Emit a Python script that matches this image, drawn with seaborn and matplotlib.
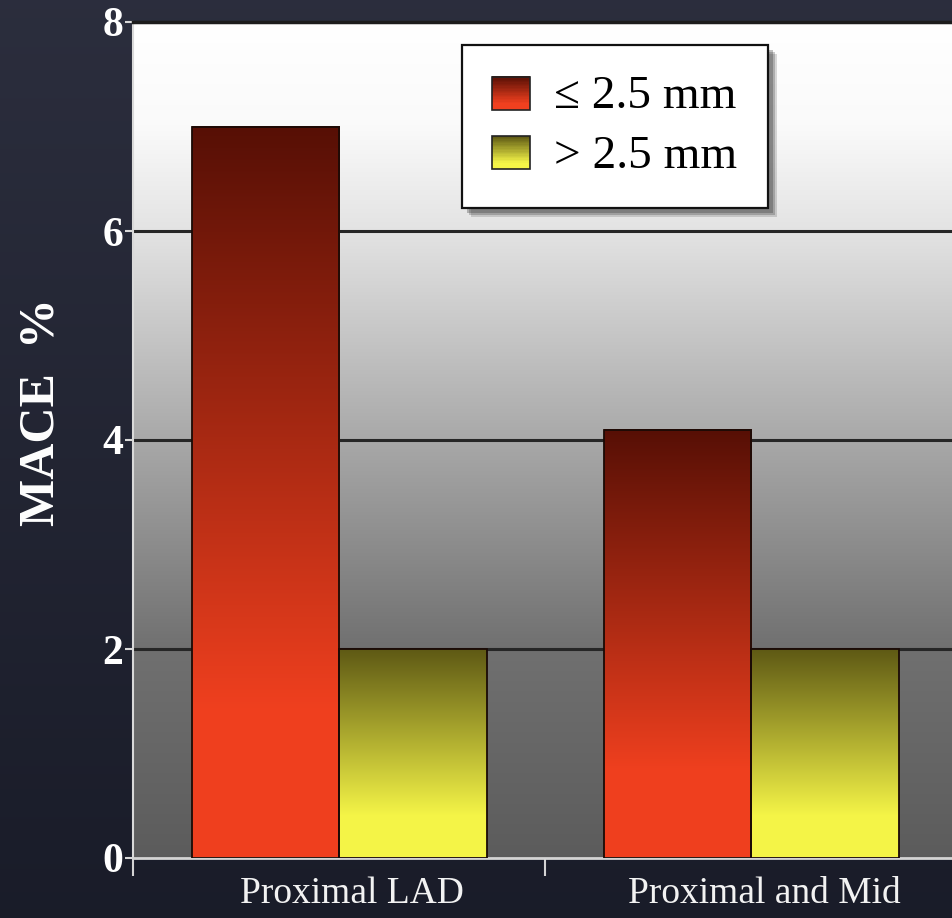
import numpy as np
import pandas as pd
import matplotlib
matplotlib.use("Agg")
import matplotlib.pyplot as plt
from matplotlib.patches import Rectangle
from matplotlib.legend_handler import HandlerBase
from matplotlib.ticker import FixedLocator
from matplotlib.transforms import ScaledTranslation
import seaborn as sns

# ---- data -------------------------------------------------------------
categories = ["Proximal LAD", "Proximal and Mid"]
groups = ["\u2264 2.5 mm", "> 2.5 mm"]
small_vessel = [7.0, 4.1]   # <= 2.5 mm
large_vessel = [2.0, 2.0]   # > 2.5 mm
y_ticks = [0, 2, 4, 6, 8]
y_label = "MACE  %"

df = pd.DataFrame({
    "category": categories * 2,
    "group": [groups[0]] * len(categories) + [groups[1]] * len(categories),
    "value": small_vessel + large_vessel,
})

# bottom (bright) and top (dark) colours of each series' gradient
grad_colors = {
    groups[0]: ((0.94, 0.25, 0.12), (0.34, 0.06, 0.02)),
    groups[1]: ((0.96, 0.96, 0.28), (0.37, 0.35, 0.08)),
}

sns.set_theme(style="white")
plt.rcParams["font.family"] = ["Liberation Serif", "DejaVu Serif"]

fig = plt.figure(figsize=(9.53, 9.18), dpi=100)
W, H = 953, 918

# dark slate backdrop
yy = np.linspace(0, 1, H)[:, None, None]
top_c = np.array([0.17, 0.18, 0.24])
bot_c = np.array([0.10, 0.11, 0.16])
bg = top_c * (1 - yy) + bot_c * yy
bg = np.repeat(bg, W, axis=1)
fig.figimage(bg, xo=0, yo=0, origin="upper", zorder=-10)

ax = fig.add_axes([133 / W, 1 - 858 / H, 1 - 133 / W, (858 - 22) / H])

sns.barplot(data=df, x="category", y="value", hue="group",
            palette=[grad_colors[g][0] for g in groups], hue_order=groups,
            order=categories, width=0.716, saturation=1, errorbar=None,
            legend=False, ax=ax)

xlim = (-0.5, 1.49)
ylim = (0, 8)

# plot-area gradient: white at the top fading to mid grey at the bottom
stops_v = [0, 2, 4, 6, 7, 8]
stops_g = [0.36, 0.44, 0.66, 0.89, 0.98, 1.0]
vv = np.linspace(0, 8, 400)
gg = np.interp(vv, stops_v, stops_g)
panel = np.repeat(gg[:, None, None], 3, axis=2)
ax.imshow(panel, extent=[xlim[0], xlim[1], 0, 8], origin="lower",
          aspect="auto", zorder=0, interpolation="bilinear")

for gv in y_ticks[1:-1]:
    ax.axhline(gv, color="#262626", lw=2.2, zorder=1)


def bar_gradient(bright, dark, n=256):
    t = np.linspace(0, 1, n)
    f = np.clip((t - 0.2) / 0.8, 0, 1)[:, None]
    col = np.array(bright) * (1 - f) + np.array(dark) * f
    return col[:, None, :]


bars = [p for p in ax.patches if isinstance(p, Rectangle)]
bar_groups = [g for g in groups for _ in categories]
for patch, g in zip(bars, bar_groups):
    x0 = patch.get_x()
    w = patch.get_width()
    h = patch.get_height()
    img = bar_gradient(*grad_colors[g])
    ax.imshow(img, extent=[x0, x0 + w, 0, h], origin="lower",
              aspect="auto", zorder=2, interpolation="bilinear")
    patch.set_facecolor("none")
    patch.set_edgecolor("#1a0a05")
    patch.set_linewidth(1.3)
    patch.set_zorder(3)

ax.set_xlim(*xlim)
ax.set_ylim(*ylim)

# axes frame
ax.spines["right"].set_visible(False)
ax.spines["top"].set_color("#1c1c1c")
ax.spines["top"].set_linewidth(2.5)
ax.spines["left"].set_color("#d9d9d9")
ax.spines["left"].set_linewidth(1.5)
ax.spines["bottom"].set_color("#d4d4d4")
ax.spines["bottom"].set_linewidth(2)
ax.set_facecolor("none")

ax.set_yticks(y_ticks)
ax.set_yticklabels([str(t) for t in y_ticks], fontsize=30,
                   fontweight="bold", color="white")
ax.tick_params(axis="y", which="major", direction="out", length=6,
               width=1.5, color="#d9d9d9", pad=1, left=True)

ax.set_xticks(range(len(categories)))
ax.set_xticklabels(categories, fontsize=27, color="#f2f2f2")
ax.tick_params(axis="x", which="major", length=0, pad=13)
shift = ScaledTranslation(13 / 100, 0, fig.dpi_scale_trans)
for lbl in ax.get_xticklabels():
    lbl.set_transform(lbl.get_transform() + shift)
ax.xaxis.set_minor_locator(FixedLocator([-0.5, 0.5, 1.5]))
ax.tick_params(axis="x", which="minor", direction="out", length=13,
               width=1.5, color="#d4d4d4", bottom=True)

ax.set_xlabel("")
ax.set_ylabel(y_label, fontsize=36, fontweight="bold", color="white")
ax.yaxis.set_label_coords(-0.083, 0.5335)


# legend with gradient swatches
class GradientSwatch(HandlerBase):
    def __init__(self, bright, dark, n=24):
        super().__init__()
        self.bright, self.dark, self.n = bright, dark, n

    def create_artists(self, legend, orig_handle, xdescent, ydescent,
                       width, height, fontsize, trans):
        x0 = -xdescent
        y0 = -ydescent - height * 0.05
        arts = []
        for i in range(self.n):
            t = (i + 0.5) / self.n
            f = np.clip((t - 0.2) / 0.8, 0, 1)
            c = np.array(self.bright) * (1 - f) + np.array(self.dark) * f
            arts.append(Rectangle((x0, y0 + height * i / self.n), width,
                                  height / self.n + 0.3, facecolor=c,
                                  edgecolor="none", transform=trans))
        arts.append(Rectangle((x0, y0), width, height, facecolor="none",
                              edgecolor="#222222", lw=1.2, transform=trans))
        return arts


# legend box (frame and soft shadow drawn in axes coordinates)
box_x0, box_x1 = 0.401, 0.774
box_y0, box_y1 = 0.7775, 0.9725
for k, a in [(9, 0.18), (7, 0.25), (5, 0.3)]:
    sh = Rectangle((box_x0, box_y0), box_x1 - box_x0, box_y1 - box_y0,
                   transform=ax.transAxes + ScaledTranslation(k / 100, -k / 100, fig.dpi_scale_trans),
                   facecolor="#303030", alpha=a, edgecolor="none", zorder=5.5)
    ax.add_patch(sh)
ax.add_patch(Rectangle((box_x0, box_y0), box_x1 - box_x0, box_y1 - box_y0,
                       transform=ax.transAxes, facecolor="white",
                       edgecolor="#111111", lw=1.6, zorder=5.6))

handles = [Rectangle((0, 0), 1, 1) for _ in groups]
handler_map = {h: GradientSwatch(*grad_colors[g]) for h, g in zip(handles, groups)}
leg = ax.legend(handles, groups, handler_map=handler_map, loc="center",
                bbox_to_anchor=((box_x0 + box_x1) / 2, (box_y0 + box_y1) / 2),
                fontsize=34, frameon=False,
                handlelength=0.8, handleheight=0.7, handletextpad=0.5,
                labelspacing=0.35, borderpad=0.1, labelcolor="black")
leg.set_zorder(6)

fig.savefig("out.png", dpi=100, facecolor=fig.get_facecolor())
